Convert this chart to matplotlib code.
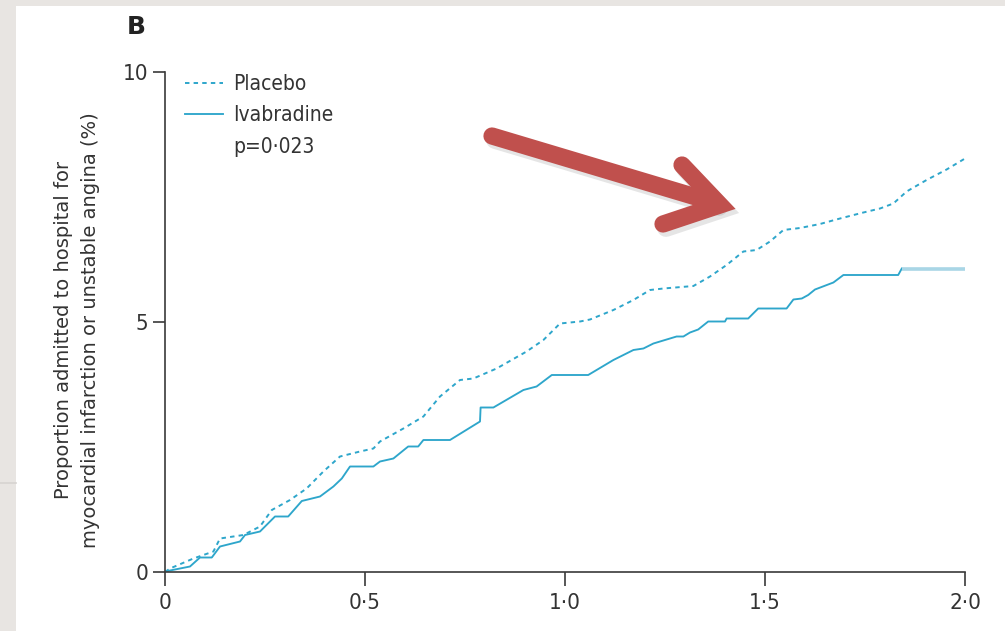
import matplotlib
matplotlib.use("Agg")
import matplotlib.pyplot as plt
from matplotlib.lines import Line2D
from matplotlib.patches import Rectangle
from matplotlib.transforms import Affine2D
from matplotlib import font_manager as fm

# ---- data ----
placebo_x = [0, 0.0125, 0.071, 0.121, 0.1375, 0.196, 0.2375, 0.267, 0.3125, 0.354,
             0.396, 0.4375, 0.4875, 0.521, 0.5375, 0.596, 0.646, 0.6875, 0.7375, 0.771,
             0.829, 0.904, 0.946, 0.9875, 1.0375, 1.0625, 1.121, 1.171, 1.2125, 1.246,
             1.321, 1.3625, 1.404, 1.446, 1.479, 1.5125, 1.546, 1.5875, 1.6375, 1.6875,
             1.746, 1.7875, 1.821, 1.854, 1.904, 1.954, 2.0]
placebo_y = [0, 0.07, 0.27, 0.41, 0.67, 0.74, 0.91, 1.24, 1.44, 1.67,
             2.01, 2.31, 2.41, 2.47, 2.61, 2.87, 3.11, 3.51, 3.84, 3.87,
             4.07, 4.41, 4.64, 4.97, 5.01, 5.05, 5.24, 5.44, 5.64, 5.67,
             5.72, 5.91, 6.14, 6.41, 6.44, 6.61, 6.84, 6.88, 6.96, 7.07,
             7.19, 7.27, 7.37, 7.61, 7.84, 8.05, 8.27]

ivab_x = [0, 0.0125, 0.0625, 0.0875, 0.117, 0.1375, 0.1875, 0.2, 0.2375, 0.275,
          0.308, 0.342, 0.3875, 0.421, 0.442, 0.4625, 0.521, 0.5375, 0.571, 0.608,
          0.633, 0.646, 0.7125, 0.7875, 0.789, 0.821, 0.896, 0.929, 0.967, 1.058,
          1.121, 1.171, 1.196, 1.221, 1.279, 1.296, 1.3125, 1.333, 1.358, 1.4,
          1.404, 1.458, 1.483, 1.554, 1.571, 1.592, 1.608, 1.625, 1.671, 1.696,
          1.833, 1.842, 2.0]
ivab_y = [0, 0.03, 0.11, 0.29, 0.29, 0.51, 0.61, 0.74, 0.81, 1.11,
          1.11, 1.42, 1.51, 1.71, 1.87, 2.11, 2.11, 2.21, 2.27, 2.51,
          2.51, 2.64, 2.64, 3.01, 3.29, 3.29, 3.64, 3.71, 3.94, 3.94,
          4.24, 4.44, 4.47, 4.57, 4.71, 4.71, 4.79, 4.85, 5.01, 5.01,
          5.07, 5.07, 5.27, 5.27, 5.45, 5.47, 5.54, 5.65, 5.79, 5.94,
          5.94, 6.07, 6.07]

x_ticks = [0, 0.5, 1.0, 1.5, 2.0]
x_tick_labels = ["0", "0·5", "1·0", "1·5", "2·0"]
y_ticks = [0, 5, 10]
y_tick_labels = ["0", "5", "10"]
series_labels = ["Placebo", "Ivabradine"]
p_text = "p=0·023"
panel_label = "B"
y_label = "Proportion admitted to hospital for\nmyocardial infarction or unstable angina (%)"

# ---- style ----
plt.rcParams['font.family'] = ['DejaVu Sans']
plt.rcParams['lines.scale_dashes'] = False
tick_font = fm.FontProperties(family='DejaVu Sans', stretch='condensed', size=16)
leg_font = fm.FontProperties(family='DejaVu Sans', stretch='condensed', size=15)
W, H = 1005, 631
line_col = '#2ea6cb'
text_col = '#333333'
axis_col = '#3a3a3a'

fig = plt.figure(figsize=(W / 100, H / 100), dpi=100, facecolor='#e8e5e2')
# white slide panel
fig.add_artist(Rectangle((16 / W, 0), 1, (H - 6) / H, transform=fig.transFigure,
                         facecolor='white', edgecolor='none', zorder=0))
fig.add_artist(Line2D([0, 16 / W], [1 - 483 / H, 1 - 483 / H], transform=fig.transFigure,
                      color='#d6d3d0', lw=1.2, zorder=0.5))

ax = fig.add_axes([165 / W, 59 / H, 800 / W, 500 / H])
ax.patch.set_visible(False)

l1, = ax.plot(placebo_x, placebo_y, color=line_col, lw=1.4, dashes=(3.2, 3),
              label=series_labels[0])
n_last = len(ivab_x) - 2
l2, = ax.plot(ivab_x[:n_last + 1], ivab_y[:n_last + 1], color=line_col, lw=1.35,
              label=series_labels[1])
ax.plot(ivab_x[n_last:], ivab_y[n_last:], color='#a9d6e6', lw=2.6, solid_capstyle='butt')

ax.set_xlim(0, 2.0)
ax.set_ylim(0, 10)
for s in ['top', 'right']:
    ax.spines[s].set_visible(False)
for s in ['left', 'bottom']:
    ax.spines[s].set_color(axis_col)
    ax.spines[s].set_linewidth(1.2)

ax.set_xticks(x_ticks)
ax.set_xticklabels(x_tick_labels, fontproperties=tick_font)
ax.set_yticks(y_ticks)
ax.set_yticklabels(y_tick_labels, fontproperties=tick_font)
ax.tick_params(axis='x', length=10, width=1.2, color=axis_col,
               labelcolor=text_col, pad=5, direction='out')
ax.tick_params(axis='y', length=9, width=1.2, color=axis_col,
               labelcolor=text_col, pad=3, direction='out')

ax.text(-0.110, 0.484, y_label, transform=ax.transAxes, rotation=90, ha='center',
        va='center', multialignment='center', fontsize=14, color=text_col,
        linespacing=1.55)

p_handle = Line2D([], [], color='none')
leg = ax.legend([l1, l2, p_handle], [series_labels[0], series_labels[1], p_text],
                loc='upper left', bbox_to_anchor=(0.025, 0.996), frameon=False,
                prop=leg_font, handlelength=1.8, handletextpad=0.5, labelspacing=0.55,
                borderpad=0, borderaxespad=0)
for t in leg.get_texts():
    t.set_color(text_col)

fig.text(136 / W, 1 - 27 / H, panel_label, ha='center', va='center', fontsize=18,
         fontweight='semibold', color='#222222')

# red call-out arrow (figure pixel coordinates, y measured from top)
tr = Affine2D().scale(1, -1).translate(0, H)
arrow_col = '#c0504d'
shaft = ([492, 716], [136, 203])
head = ([682, 720, 663], [165, 205, 224])
for dx, dy, col, a, lw in [(3, 4, '#8a8a8a', 0.22, 12.8), (0, 0, arrow_col, 1.0, 12.4)]:
    fig.add_artist(Line2D([v + dx for v in shaft[0]], [v + dy for v in shaft[1]],
                          transform=tr, color=col, alpha=a, lw=lw,
                          solid_capstyle='round', zorder=5))
    fig.add_artist(Line2D([v + dx for v in head[0]], [v + dy for v in head[1]],
                          transform=tr, color=col, alpha=a, lw=lw,
                          solid_capstyle='round', solid_joinstyle='miter', zorder=5))

fig.savefig('out.png', dpi=100, facecolor=fig.get_facecolor())
